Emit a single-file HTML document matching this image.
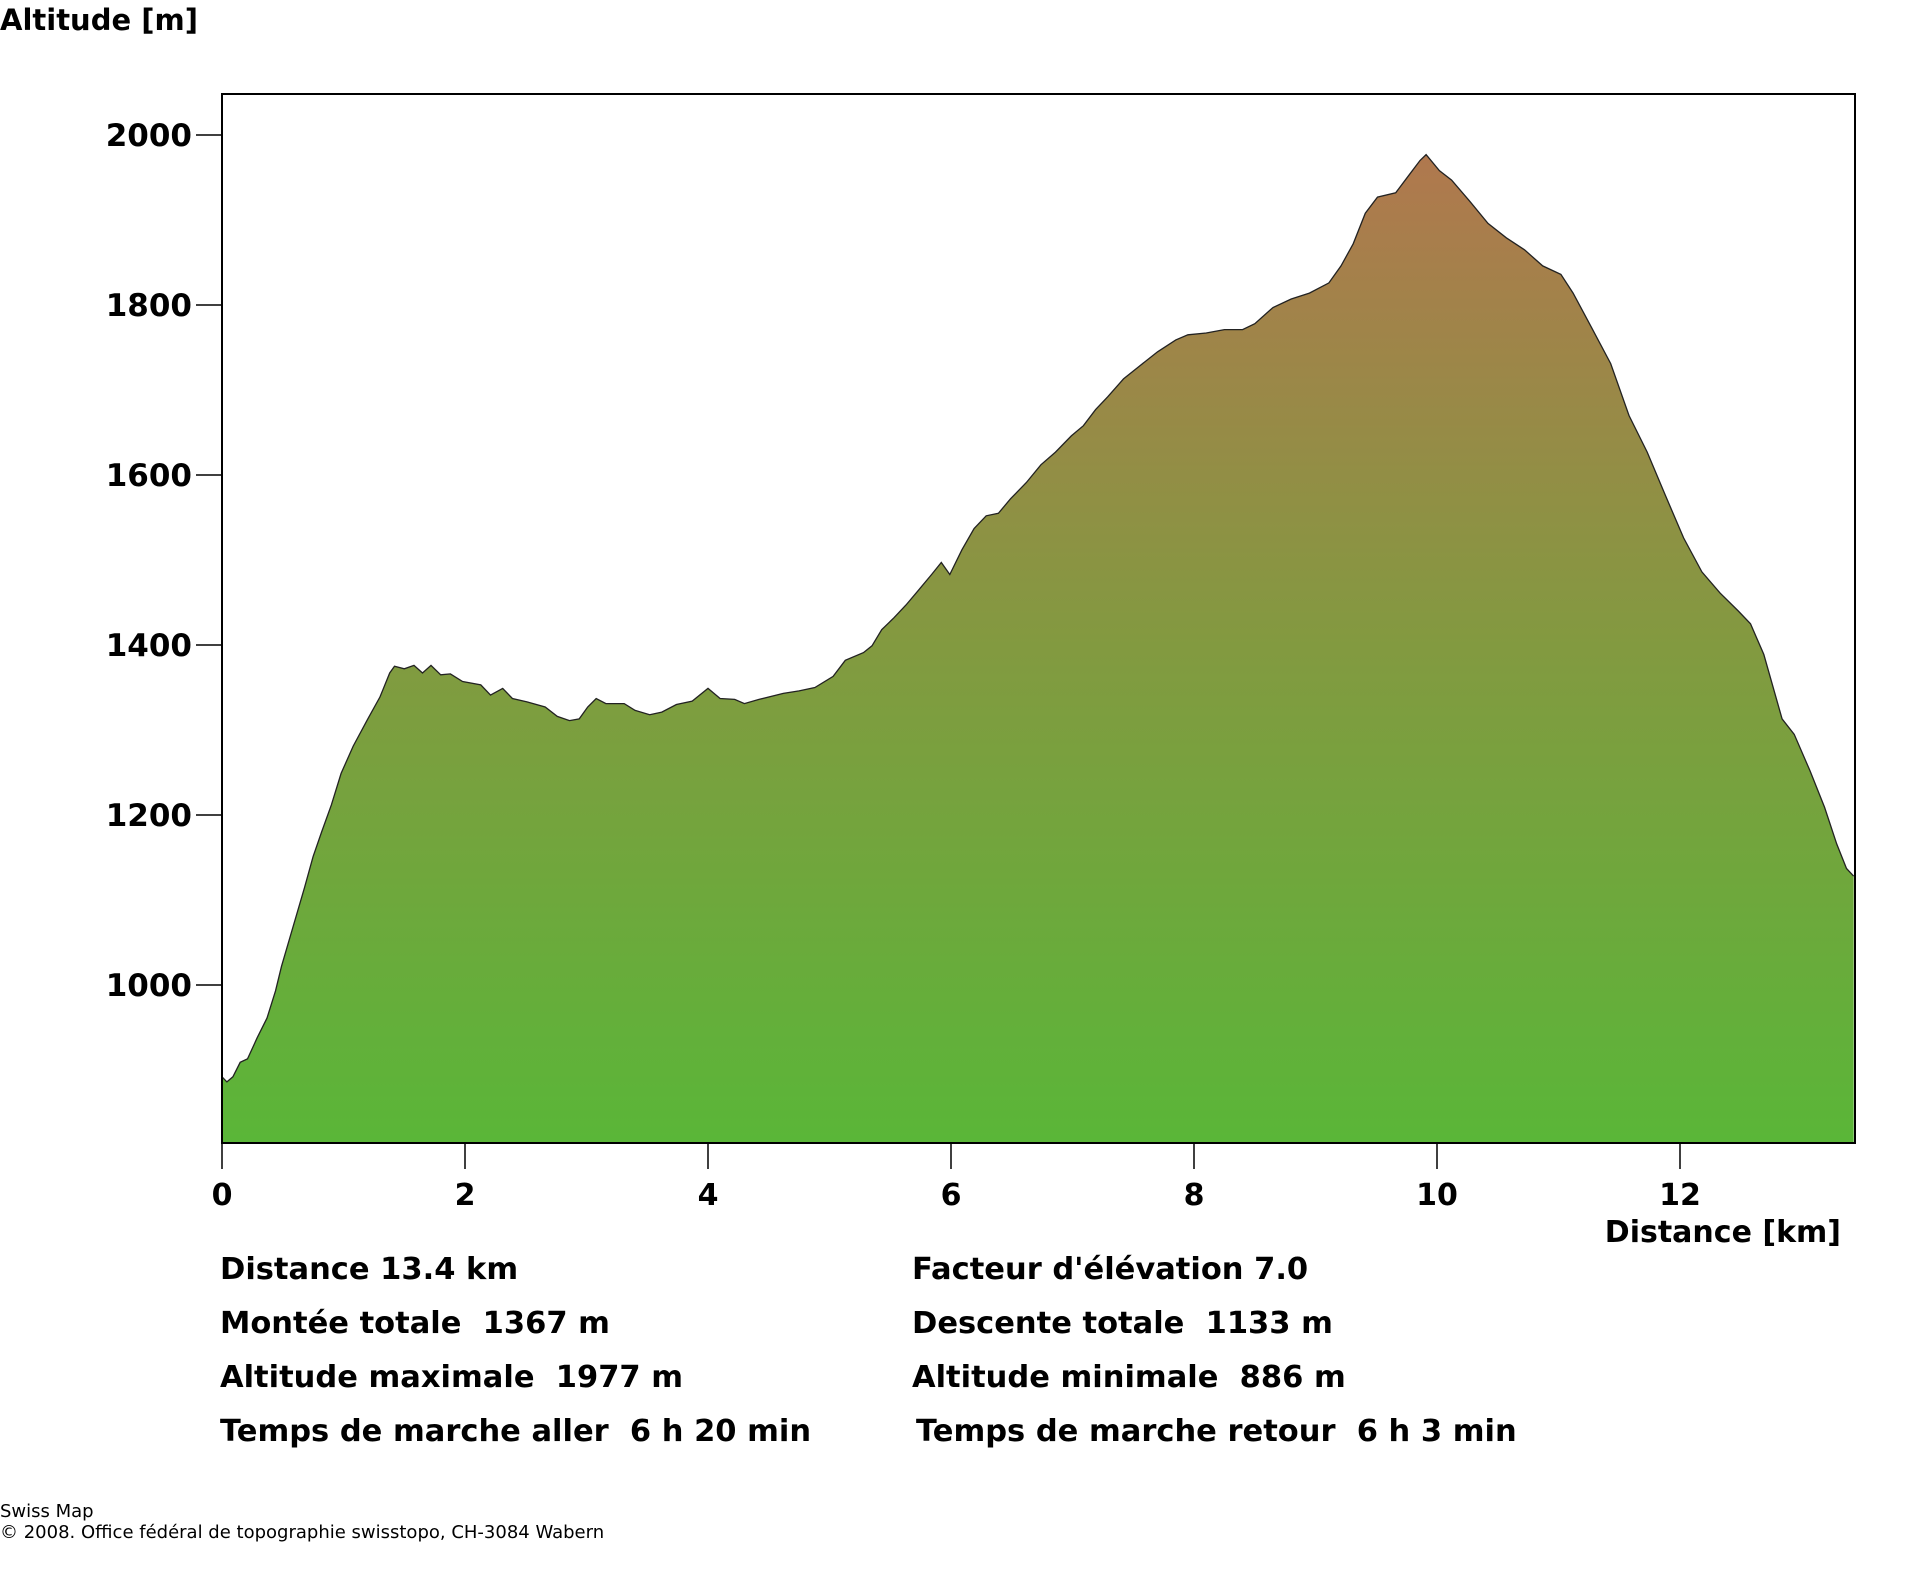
<!DOCTYPE html>
<html><head><meta charset="utf-8"><style>
html,body{margin:0;padding:0;background:#fff;}
svg{display:block;font-family:"DejaVu Sans","Liberation Sans",sans-serif;}
.t{font-weight:bold;fill:#000;}
</style></head>
<body>
<svg id="chart" width="1920" height="1572" viewBox="0 0 1920 1572">
<defs>
<linearGradient id="g" gradientUnits="userSpaceOnUse" x1="0" y1="155" x2="0" y2="1143">
<stop offset="0" stop-color="#b0784e"/>
<stop offset="0.5" stop-color="#829a40"/>
<stop offset="1" stop-color="#5ab638"/>
</linearGradient>
</defs>
<text class="t" x="0" y="30" font-size="29">Altitude [m]</text>
<g id="plot"></g>
<text class="t" x="1841" y="1242" font-size="30" text-anchor="end">Distance [km]</text>
<g class="t" font-size="30.5">
<text x="220" y="1279" xml:space="preserve">Distance 13.4 km</text>
<text x="220" y="1333" xml:space="preserve">Montée totale  1367 m</text>
<text x="220" y="1387" xml:space="preserve">Altitude maximale  1977 m</text>
<text x="220" y="1441" xml:space="preserve">Temps de marche aller  6 h 20 min</text>
<text x="912" y="1279" xml:space="preserve">Facteur d'élévation 7.0</text>
<text x="912" y="1333" xml:space="preserve">Descente totale  1133 m</text>
<text x="912" y="1387" xml:space="preserve">Altitude minimale  886 m</text>
<text x="916" y="1441" xml:space="preserve">Temps de marche retour  6 h 3 min</text>
</g>
<text x="0" y="1517" font-size="18">Swiss Map</text>
<text x="0" y="1538" font-size="18">© 2008. Office fédéral de topographie swisstopo, CH-3084 Wabern</text>
</svg>
<script>
const distKm = [0,0.04,0.09,0.15,0.21,0.29,0.37,0.44,0.49,0.59,0.68,0.75,0.82,0.90,0.98,1.08,1.20,1.30,1.38,1.42,1.50,1.58,1.65,1.72,1.80,1.88,1.98,2.13,2.21,2.31,2.39,2.51,2.66,2.76,2.86,2.94,3.01,3.08,3.16,3.31,3.40,3.52,3.62,3.74,3.87,4.0,4.10,4.22,4.30,4.42,4.62,4.75,4.88,5.03,5.13,5.28,5.35,5.43,5.53,5.63,5.73,5.84,5.92,5.99,6.09,6.19,6.29,6.39,6.49,6.62,6.74,6.86,6.99,7.09,7.19,7.29,7.42,7.55,7.70,7.85,7.95,8.10,8.25,8.40,8.50,8.65,8.80,8.95,9.11,9.21,9.31,9.41,9.51,9.66,9.76,9.86,9.91,10.02,10.12,10.27,10.42,10.57,10.72,10.87,11.02,11.12,11.27,11.43,11.58,11.73,11.88,12.03,12.18,12.33,12.48,12.58,12.69,12.84,12.94,13.07,13.19,13.29,13.37,13.43];
const altitudeM = [892,886,892,909,913,938,961,993,1022,1071,1115,1151,1180,1212,1249,1281,1313,1339,1367,1375,1372,1376,1367,1376,1365,1366,1357,1353,1341,1349,1337,1333,1327,1316,1311,1313,1327,1337,1331,1331,1323,1318,1321,1330,1334,1349,1337,1336,1331,1336,1343,1346,1350,1363,1382,1391,1399,1418,1432,1447,1464,1483,1497,1483,1512,1537,1552,1555,1572,1591,1612,1627,1646,1658,1677,1692,1713,1728,1745,1759,1765,1767,1771,1771,1778,1797,1807,1814,1826,1846,1872,1908,1927,1932,1951,1970,1977,1958,1947,1922,1896,1879,1865,1846,1836,1814,1774,1731,1670,1627,1576,1526,1486,1461,1440,1425,1389,1313,1295,1252,1209,1166,1137,1128];
const yTicks = [1000,1200,1400,1600,1800,2000];
const xTicks = [0,2,4,6,8,10,12];

const L=222, R=1855, T=94, B=1143;
const xs = km => L + km*121.5;
const ys = m => 135 + (2000-m)*0.85;
const NS='http://www.w3.org/2000/svg';
const plot=document.getElementById('plot');
function mk(tag,attrs){const e=document.createElementNS(NS,tag);for(const k in attrs)e.setAttribute(k,attrs[k]);plot.appendChild(e);return e;}

let d='M'+xs(distKm[0])+','+B;
for(let i=0;i<distKm.length;i++) d+=' L'+xs(distKm[i]).toFixed(1)+','+ys(altitudeM[i]).toFixed(1);
d+=' L'+xs(distKm[distKm.length-1]).toFixed(1)+','+B+' Z';
const area=mk('path',{d:d,fill:'url(#g)',stroke:'none'});


let ld='';
for(let i=0;i<distKm.length;i++) ld+=(i?' L':'M')+xs(distKm[i]).toFixed(1)+','+ys(altitudeM[i]).toFixed(1);
const line=mk('path',{d:ld,fill:'none',stroke:'#222','stroke-width':1.3});


const frame=mk('rect',{x:L,y:T,width:R-L,height:B-T,fill:'none',stroke:'#000','stroke-width':2});



yTicks.forEach(v=>{
  const y=ys(v);
  const tk=mk('line',{x1:196,x2:L,y1:y,y2:y,stroke:'#000','stroke-width':1.5});
  
  
  const tx=mk('text',{x:192,y:y+11,'font-size':31,'text-anchor':'end','class':'t'});
  tx.textContent=v;
  
  
});
xTicks.forEach(v=>{
  const x=xs(v);
  const tk=mk('line',{x1:x,x2:x,y1:B,y2:1169,stroke:'#000','stroke-width':1.5});
  
  
  const tx=mk('text',{x:x,y:1205,'font-size':30,'text-anchor':'middle','class':'t'});
  tx.textContent=v;
  
  
});
</script>
</body></html>
